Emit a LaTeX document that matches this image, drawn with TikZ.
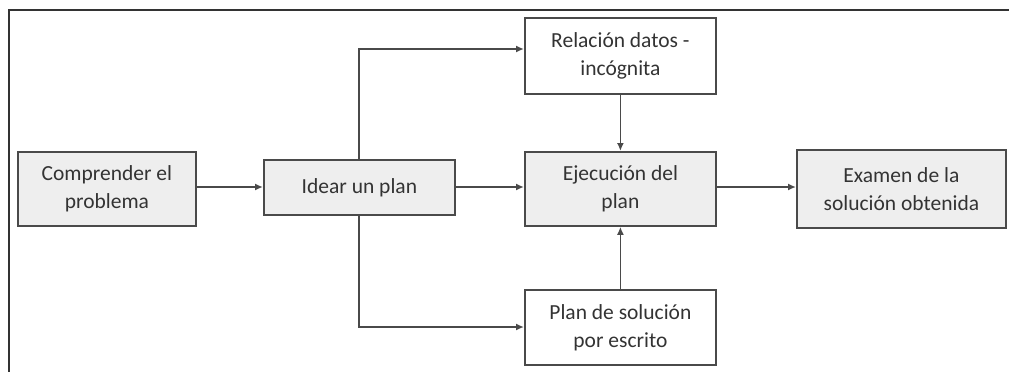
\documentclass[tikz,border=0pt]{standalone}
\usepackage{fontspec}
\setmainfont{Carlito}
\usetikzlibrary{arrows.meta}
\definecolor{boxfill}{HTML}{EEEEEE}
\definecolor{boxline}{HTML}{4A4A4A}
\definecolor{txt}{HTML}{333333}
\tikzset{
  box/.style={draw=boxline, line width=1.8pt, fill=boxfill, inner sep=0pt, anchor=north west, text=txt, align=center, font=\fontsize{21.5}{28}\selectfont},
  wbox/.style={box, fill=white},
  conn/.style={draw=boxline, line width=1.7pt, -{Latex[length=8pt,width=7pt]}},
  frame/.style={draw=black!80, line width=2.2pt}
}
\begin{document}
\begin{tikzpicture}[x=1pt,y=-1pt]
\useasboundingbox (0,0) rectangle (1009,372);
\draw[frame] (9,372) -- (9,10) -- (1009,10);
\node[box, minimum width=178pt, minimum height=74pt] (comp) at (17,151) {Comprender el\\problema};
\node[box, minimum width=191pt, minimum height=55pt] (idear) at (263,159) {Idear un plan};
\node[box, minimum width=191pt, minimum height=74pt] (ejec) at (524,151) {Ejecución del\\plan};
\node[box, minimum width=209pt, minimum height=78pt] (exam) at (796,149) {Examen de la\\solución obtenida};
\node[wbox, minimum width=191pt, minimum height=76pt] (rel) at (524,17) {Relación datos -\\incógnita};
\node[wbox, minimum width=191pt, minimum height=75pt] (plan) at (524,289) {Plan de solución\\por escrito};
\coordinate (mid) at (0,187);
\coordinate (up) at (359,49);
\coordinate (down) at (359,327);
\draw[conn] (comp.east |- mid) -- (idear.west |- mid);
\draw[conn] (idear.east |- mid) -- (ejec.west |- mid);
\draw[conn] (ejec.east |- mid) -- (exam.west |- mid);
\draw[conn] (idear.north -| up) -- (up) -- (rel.west |- up);
\draw[conn] (idear.south -| down) -- (down) -- (plan.west |- down);
\draw[conn] (rel.south) -- (ejec.north);
\draw[conn] (plan.north) -- (ejec.south);
\end{tikzpicture}
\end{document}
